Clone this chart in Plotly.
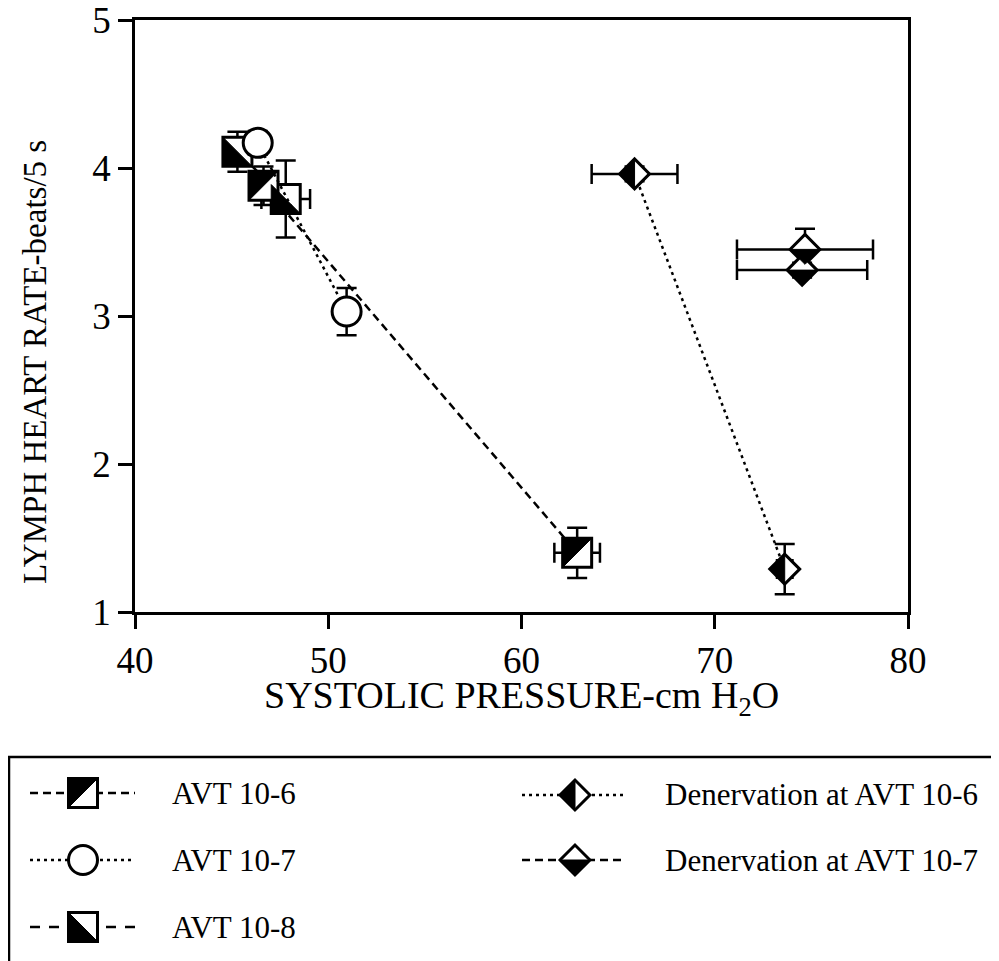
import plotly.graph_objects as go

# ---------------- data ----------------
avt6_x = [46.65, 62.88]
avt6_y = [3.88, 1.40]
avt6_xerr = [0.40, 1.18]
avt6_yerr = [0.13, 0.17]

avt7_x = [46.35, 50.95]
avt7_y = [4.17, 3.03]
avt7_xerr = [0.30, 0.30]
avt7_yerr = [0.08, 0.16]

avt8_x = [45.30, 47.80]
avt8_y = [4.11, 3.79]
avt8_xerr = [0.30, 1.26]
avt8_yerr = [0.135, 0.26]

den6_x = [65.85, 73.62]
den6_y = [3.96, 1.29]
den6_xerr = [2.22, 0.40]
den6_yerr = [0.05, 0.17]

den7_x = [74.67, 74.52]
den7_y = [3.45, 3.31]
den7_xerr = [3.52, 3.37]
den7_yerr = [0.14, 0.05]

x_ticks = [40, 50, 60, 70, 80]
y_ticks = [1, 2, 3, 4, 5]

series_names = ["AVT 10-6", "AVT 10-7", "AVT 10-8",
                "Denervation at AVT 10-6", "Denervation at AVT 10-7"]

# ---------------- styles ----------------
W, H = 999, 961
OFF = 8                      # page offset of the figure (body margin)
ML, MT = 135 - OFF, 20 - OFF
MR = W - (908 - OFF)
MB = H - (612 - OFF)
PW, PH = W - ML - MR, H - MT - MB
FONT = "Liberation Serif, Times New Roman, serif"
SQ = 29          # square / circle marker size (px)
DM = 23          # diamond marker size (px)
h = SQ / 2.0
d = round(1.3 * DM / 2.0, 2)
LW = 2.5

DASH6 = "8px,5px"
DOT = "3px,4px"
DASH8 = "10px,9px"
DASHD7 = "8px,5px"

def px2paper_x(px):
    return (px - OFF - ML) / PW

def px2paper_y(py):
    return (H - MB - (py - OFF)) / PH

half_paths = {
    "ul": f"M{-h},{-h} L{-h},{h} L{h},{h} Z",      # upper-left black (square)
    "ll": f"M{-h},{h} L{-h},{-h} L{h},{-h} Z",      # lower-left black (square)
    "dl": f"M0,{d} L{-d},0 L0,{-d} Z",              # left half black (diamond)
    "db": f"M{-d},0 L{d},0 L0,{-d} Z",              # bottom half black (diamond)
}
full_paths = {
    "square": f"M{-h},{-h} L{h},{-h} L{h},{h} L{-h},{h} Z",
    "diamond": f"M{d},0 L0,{d} L{-d},0 L0,{-d} Z",
}

series = [
    # name, x, y, xerr, yerr, symbol, size, dash, half
    (series_names[3], den6_x, den6_y, den6_xerr, den6_yerr, "diamond", DM, DOT, "dl"),
    (series_names[4], den7_x, den7_y, den7_xerr, den7_yerr, "diamond", DM, DASHD7, "db"),
    (series_names[2], avt8_x, avt8_y, avt8_xerr, avt8_yerr, "square", SQ, DASH8, "ll"),
    (series_names[0], avt6_x, avt6_y, avt6_xerr, avt6_yerr, "square", SQ, DASH6, "ul"),
    (series_names[1], avt7_x, avt7_y, avt7_xerr, avt7_yerr, "circle", SQ, DOT, None),
]

fig = go.Figure()
shapes = []

for name, xs, ys, xe, ye, sym, size, dash, half in series:
    fig.add_trace(go.Scatter(
        x=xs, y=ys, name=name, mode="lines+markers", showlegend=False,
        line=dict(color="black", width=LW, dash=dash),
        marker=dict(symbol=sym, size=size, color="white",
                    line=dict(color="black", width=3)),
        error_x=dict(type="data", array=xe, color="black", thickness=LW, width=10),
        error_y=dict(type="data", array=ye, color="black", thickness=LW, width=10),
    ))
    if half:
        for xv, yv in zip(xs, ys):
            shapes.append(dict(
                type="path", xref="x", yref="y",
                xsizemode="pixel", ysizemode="pixel",
                xanchor=xv, yanchor=yv, path=half_paths[half],
                fillcolor="black", line=dict(color="black", width=1),
                layer="above"))

# ---------------- custom legend ----------------
legend_items = [
    # name, sample-line x0,x1, marker x, row y, text x, kind, dash, half
    (series_names[0], 30, 135, 83, 793, 170, "square", DASH6, "ul"),
    (series_names[1], 30, 135, 83, 860, 170, "circle", DOT, None),
    (series_names[2], 30, 135, 83, 927, 170, "square", DASH8, "ll"),
    (series_names[3], 522, 623, 575, 795, 663, "diamond", DOT, "dl"),
    (series_names[4], 522, 623, 575, 860, 663, "diamond", DASHD7, "db"),
]

# frame
shapes.append(dict(type="rect", xref="paper", yref="paper",
                   x0=px2paper_x(9), x1=px2paper_x(997),
                   y0=px2paper_y(757), y1=px2paper_y(1000),
                   line=dict(color="black", width=2.5), fillcolor="rgba(0,0,0,0)"))

annotations = []
for name, lx0, lx1, mx, ry, tx, kind, dash, half in legend_items:
    yy = px2paper_y(ry)
    shapes.append(dict(type="line", xref="paper", yref="paper",
                       x0=px2paper_x(lx0), x1=px2paper_x(lx1), y0=yy, y1=yy,
                       line=dict(color="black", width=LW, dash=dash)))
    base = dict(xref="paper", yref="paper", xsizemode="pixel", ysizemode="pixel",
                xanchor=px2paper_x(mx), yanchor=yy)
    if kind == "circle":
        shapes.append(dict(type="circle", x0=-h, x1=h, y0=-h, y1=h,
                           fillcolor="white", line=dict(color="black", width=3), **base))
    else:
        shapes.append(dict(type="path", path=full_paths[kind],
                           fillcolor="white", line=dict(color="black", width=3), **base))
    if half:
        shapes.append(dict(type="path", path=half_paths[half],
                           fillcolor="black", line=dict(color="black", width=1), **base))
    annotations.append(dict(xref="paper", yref="paper", x=px2paper_x(tx), y=yy,
                            xanchor="left", yanchor="middle", showarrow=False,
                            text=name, font=dict(family=FONT, size=31, color="black")))

# axis titles
annotations.append(dict(xref="paper", yref="paper", x=px2paper_x(521), y=px2paper_y(698),
                        xanchor="center", yanchor="middle", showarrow=False,
                        text="SYSTOLIC PRESSURE-cm H<sub>2</sub>O",
                        font=dict(family=FONT, size=38, color="black")))
annotations.append(dict(xref="paper", yref="paper", x=px2paper_x(35), y=px2paper_y(362),
                        xanchor="center", yanchor="middle", showarrow=False, textangle=-90,
                        text="LYMPH HEART RATE-beats/5 s",
                        font=dict(family=FONT, size=33, color="black")))

axis_common = dict(showgrid=False, zeroline=False, showline=True, linecolor="black",
                   linewidth=2.5, mirror=True, ticks="outside", ticklen=14,
                   tickwidth=2.5, tickcolor="black", automargin=False,
                   ticklabeloverflow="allow",
                   tickfont=dict(family=FONT, size=37, color="black"))

fig.update_layout(
    width=W, height=H,
    margin=dict(l=ML, r=MR, t=MT, b=MB, autoexpand=False),
    paper_bgcolor="white", plot_bgcolor="white",
    showlegend=False,
    xaxis=dict(range=[40, 80], tickvals=x_ticks, **axis_common),
    yaxis=dict(range=[1, 5], tickvals=y_ticks, **axis_common),
    shapes=shapes,
    annotations=annotations,
)

fig.write_html("out.html")
